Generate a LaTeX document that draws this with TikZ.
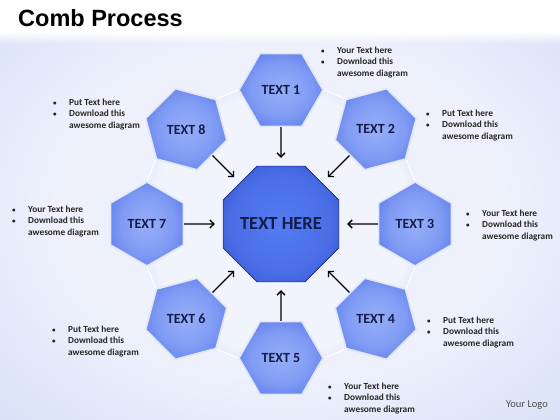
\documentclass[tikz,border=0pt]{standalone}
\usepackage{fontspec}
\setmainfont{Carlito}
\newfontfamily\titlefont{Liberation Sans}
\usetikzlibrary{shapes.geometric, arrows.meta, backgrounds, fadings}

\definecolor{hexin}{RGB}{150,174,248}
\definecolor{hexout}{RGB}{62,98,230}
\definecolor{hubin}{RGB}{84,124,242}
\definecolor{hubout}{RGB}{30,48,176}
\definecolor{ringin}{RGB}{242,244,253}
\definecolor{ringout}{RGB}{196,208,246}
\definecolor{bgin}{RGB}{238,241,252}
\definecolor{bgout}{RGB}{198,210,243}
\definecolor{ink}{RGB}{20,28,72}
\definecolor{rim}{RGB}{226,231,248}

\pgfdeclareradialshading{hexglow}{\pgfpoint{0bp}{0bp}}{color(0bp)=(hexin); color(18bp)=(hexin!75!hexout); color(42bp)=(hexout); color(50bp)=(hexout)}
\pgfdeclareradialshading{hubglow}{\pgfpoint{0bp}{0bp}}{color(0bp)=(hubin); color(22bp)=(hubin!80!hubout); color(46bp)=(hubout); color(50bp)=(hubout)}
\pgfdeclareradialshading{ringglow}{\pgfpoint{0bp}{0bp}}{color(0bp)=(ringin); color(24bp)=(ringin); color(34bp)=(ringout); color(50bp)=(ringout)}
\pgfdeclareradialshading{bgglow}{\pgfpoint{0bp}{0bp}}{color(0bp)=(bgin); color(20bp)=(bgin); color(50bp)=(bgout)}

% bullet list beside each cell
\newcommand{\blurb}[1]{{\fontsize{9.3}{11.5}\selectfont\bfseries
\begin{tabular}{@{}p{16pt}@{}l@{}}
{\scriptsize\textbullet} & #1\\
{\scriptsize\textbullet} & Download this\\
 & awesome diagram
\end{tabular}}}

\begin{document}
\begin{tikzpicture}[x=1pt, y=1pt,
    hexa/.style={regular polygon, regular polygon sides=6, minimum size=84pt,
        inner sep=0pt, shading=hexglow, draw=rim, line width=1.6pt, text=ink,
        font=\fontsize{14}{16}\selectfont\bfseries},
    hub/.style={regular polygon, regular polygon sides=8, minimum size=125pt,
        inner sep=0pt, shading=hubglow, draw=hubout!80!black, line width=0.6pt,
        text=ink, font=\fontsize{18.5}{20}\selectfont\bfseries},
    feed/.style={-{Straight Barb[length=4pt,width=8pt]}, line width=1.3pt,
        shorten >=8pt},
    note/.style={anchor=north west, inner sep=0pt, text=black!85}]

\useasboundingbox (-281,-196) rectangle (279,224);

\node[hub] (hub) at (0,0) {TEXT HERE};

\node[hexa, shape border rotate=0]  (t1) at (90:134)   {TEXT 1};
\node[hexa, shape border rotate=15] (t2) at (45:134)   {TEXT 2};
\node[hexa, shape border rotate=30] (t3) at (0:134)    {TEXT 3};
\node[hexa, shape border rotate=45] (t4) at (-45:134)  {TEXT 4};
\node[hexa, shape border rotate=0]  (t5) at (-90:134)  {TEXT 5};
\node[hexa, shape border rotate=15] (t6) at (-135:134) {TEXT 6};
\node[hexa, shape border rotate=30] (t7) at (180:134)  {TEXT 7};
\node[hexa, shape border rotate=45] (t8) at (135:134)  {TEXT 8};

\draw[feed] (t1) -- (hub);
\draw[feed] (t2) -- (hub);
\draw[feed] (t3) -- (hub);
\draw[feed] (t4) -- (hub);
\draw[feed] (t5) -- (hub);
\draw[feed] (t6) -- (hub);
\draw[feed] (t7) -- (hub);
\draw[feed] (t8) -- (hub);

\node[note] (n1) at (40,179)   {\blurb{Your Text here}};
\node[note] (n2) at (145,116)  {\blurb{Put Text here}};
\node[note] (n3) at (185,16)   {\blurb{Your Text here}};
\node[note] (n4) at (146,-91)  {\blurb{Put Text here}};
\node[note] (n5) at (47,-157)  {\blurb{Your Text here}};
\node[note] (n6) at (-229,-100) {\blurb{Put Text here}};
\node[note] (n7) at (-269,20)  {\blurb{Your Text here}};
\node[note] (n8) at (-228,127) {\blurb{Put Text here}};

\node[anchor=base west, inner sep=0pt,
    font=\titlefont\fontsize{23.5}{26}\bfseries] (title) at (-263,197) {Comb Process};
\node[font=\fontsize{10.5}{12}\selectfont, text=black!70] (logo) at (246,-181) {Your Logo};

\begin{scope}[on background layer]
    \shade[shading=bgglow] (-281,-196) rectangle (279,224);
    \fill[white] (-281,192) rectangle (279,224);
    \fill[white, path fading=south] (-281,180) rectangle (279,192);
    % band joining the cells
    \shadedraw[shading=ringglow, draw=white, line width=1pt]
        (t1.180) -- (t1.0) -- (t2.135) -- (t2.-45) -- (t3.90) -- (t3.-90)
        -- (t4.45) -- (t4.-135) -- (t5.0) -- (t5.180) -- (t6.-45) -- (t6.135)
        -- (t7.-90) -- (t7.90) -- (t8.-135) -- (t8.45) -- cycle;
\end{scope}
\end{tikzpicture}
\end{document}
